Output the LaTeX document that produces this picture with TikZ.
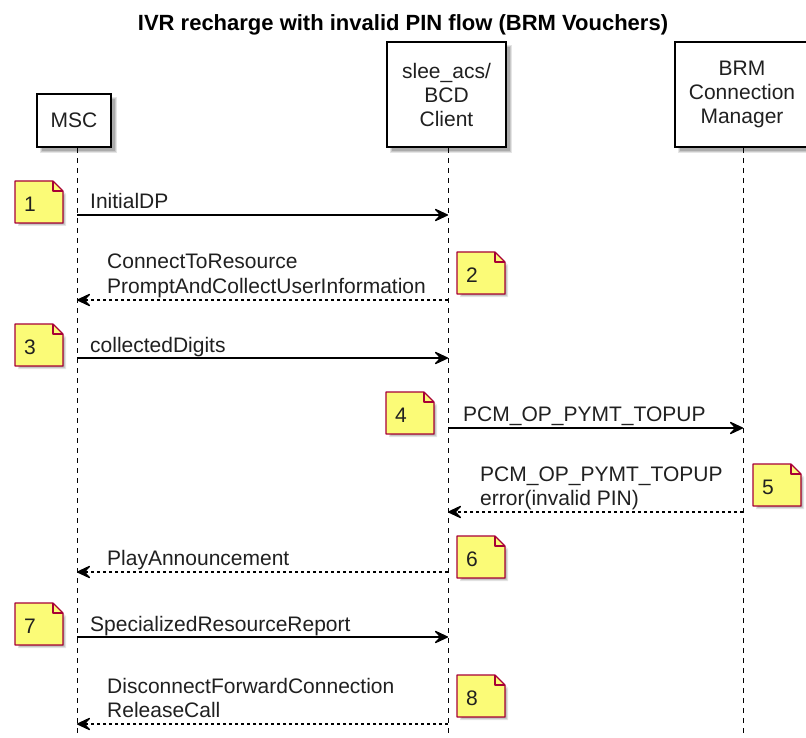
\documentclass[tikz,border=0pt]{standalone}
\usepackage{fontspec}
\setmainfont{Liberation Sans}
\usetikzlibrary{arrows.meta}
\definecolor{notefill}{HTML}{FBFB77}
\definecolor{notedraw}{HTML}{A80036}
\definecolor{txt}{HTML}{202020}
\tikzset{
  partbox/.style={draw=black, line width=1.4pt, fill=white, align=center, inner sep=0pt,
    font=\fontsize{21}{24}\selectfont, text=txt},
  lifeline/.style={draw=black, line width=1pt, dash pattern=on 5pt off 5pt},
  msg/.style={draw=black, line width=1.3pt, -{Stealth[length=16pt,width=15pt,inset=7pt,round]}},
  ret/.style={msg, dash pattern=on 3pt off 3pt},
  lbl/.style={font=\fontsize{21}{24}\selectfont, text=txt, inner sep=0pt, anchor=base west},
  notenum/.style={font=\fontsize{21}{24}\selectfont, text=txt, inner sep=0pt}
}
\newcommand{\shadowbox}[4]{% x1 y1 x2 y2
  \fill[black, opacity=0.10] (#1+3,#2+3) rectangle (#3+6,#4+6);
  \fill[black, opacity=0.12] (#1+4,#2+4) rectangle (#3+5,#4+5);
  \fill[black, opacity=0.15] (#1+5,#2+5) rectangle (#3+4,#4+4);
}
\newcommand{\notebox}[4]{% name x y number
  \begin{scope}[shift={(#2,#3)}]
    \fill[black, opacity=0.10] (3,3) -- (41,3) -- (51,13) -- (51,45) -- (3,45) -- cycle;
    \fill[black, opacity=0.12] (4,4) -- (40,4) -- (50,14) -- (50,44) -- (4,44) -- cycle;
    \fill[black, opacity=0.15] (5,5) -- (39,5) -- (49,15) -- (49,43) -- (5,43) -- cycle;
    \draw[notedraw, fill=notefill, line width=1.1pt, line join=round] (0,0) -- (38,0) -- (48,10) -- (48,42) -- (0,42) -- cycle;
    \draw[notedraw, line width=1.1pt, line join=round] (38,0) -- (38,10) -- (48,10);
    \node[notenum] (#1) at (15,23) {#4};
  \end{scope}
}
\begin{document}
\begin{tikzpicture}[x=1pt, y=-1pt]
\useasboundingbox (0,0) rectangle (806,738);
\fill[white] (0,0) rectangle (806,738);

% title
\node[font=\fontsize{22}{26}\selectfont\bfseries, text=black, anchor=base, inner sep=0pt] (title) at (403,31) {IVR recharge with invalid PIN flow (BRM Vouchers)};

% lifelines
\coordinate (msctop) at (77,148);
\coordinate (mscbot) at (77,740);
\coordinate (sleetop) at (448,148);
\coordinate (sleebot) at (448,740);
\coordinate (brmtop) at (743,148);
\coordinate (brmbot) at (743,740);
\draw[lifeline] (msctop) -- (mscbot);
\draw[lifeline] (sleetop) -- (sleebot);
\draw[lifeline] (brmtop) -- (brmbot);

% participants
\shadowbox{37}{94}{111}{147}
\node[partbox, minimum width=74pt, minimum height=53pt] (msc) at (74,120.5) {MSC};
\shadowbox{387}{42}{506}{147}
\node[partbox, minimum width=119pt, minimum height=105pt] (slee) at (446.5,94.5) {slee\_acs/\\BCD\\Client};
\shadowbox{675}{42}{809}{147}
\node[partbox, minimum width=134pt, minimum height=105pt] (brm) at (742,94.5) {BRM\\Connection\\Manager};

% message endpoints
\coordinate (a1) at (77,215);  \coordinate (b1) at (448,215);
\coordinate (a2) at (448,300); \coordinate (b2) at (77,300);
\coordinate (a3) at (77,358);  \coordinate (b3) at (448,358);
\coordinate (a4) at (448,428); \coordinate (b4) at (743,428);
\coordinate (a5) at (743,512); \coordinate (b5) at (448,512);
\coordinate (a6) at (448,572); \coordinate (b6) at (77,572);
\coordinate (a7) at (77,637);  \coordinate (b7) at (448,637);
\coordinate (a8) at (448,724); \coordinate (b8) at (77,724);

\draw[msg] (a1) -- (b1);
\draw[ret] (a2) -- (b2);
\draw[msg] (a3) -- (b3);
\draw[msg] (a4) -- (b4);
\draw[ret] (a5) -- (b5);
\draw[ret] (a6) -- (b6);
\draw[msg] (a7) -- (b7);
\draw[ret] (a8) -- (b8);

% labels
\node[lbl] (l1) at (90,209) {InitialDP};
\node[lbl] (l2a) at (107,269) {ConnectToResource};
\node[lbl] (l2b) at (107,293) {PromptAndCollectUserInformation};
\node[lbl] (l3) at (90,352) {collectedDigits};
\node[lbl] (l4) at (463,421) {PCM\_OP\_PYMT\_TOPUP};
\node[lbl] (l5a) at (480,481) {PCM\_OP\_PYMT\_TOPUP};
\node[lbl] (l5b) at (480,505) {error(invalid PIN)};
\node[lbl] (l6) at (107,565) {PlayAnnouncement};
\node[lbl] (l7) at (90,631) {SpecializedResourceReport};
\node[lbl] (l8a) at (107,693) {DisconnectForwardConnection};
\node[lbl] (l8b) at (107,717) {ReleaseCall};

% notes
\notebox{n1}{15}{181}{1}
\notebox{n2}{457}{252}{2}
\notebox{n3}{15}{324}{3}
\notebox{n4}{386}{392}{4}
\notebox{n5}{753}{464}{5}
\notebox{n6}{457}{536}{6}
\notebox{n7}{15}{603}{7}
\notebox{n8}{457}{675}{8}
\end{tikzpicture}
\end{document}
